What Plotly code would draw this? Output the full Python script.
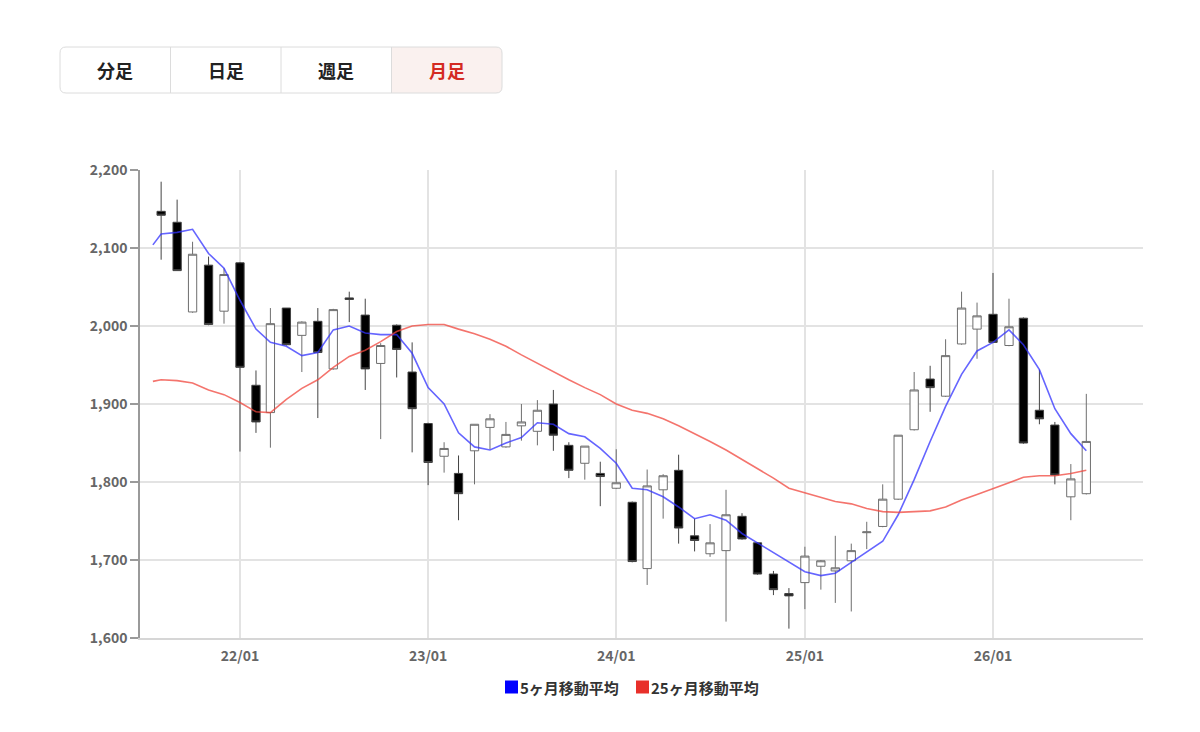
import plotly.graph_objects as go
import pandas as pd

# monthly candles, 2021/08 - 2026/07
months = pd.date_range("2021-08-01", "2026-07-01", freq="MS")

open_ = [2147, 2133, 2018, 2078, 2019, 2081, 1924, 1889, 2023, 1988,
         2006, 1945, 2036, 2014, 1952, 2001, 1941, 1875, 1833, 1811,
         1840, 1870, 1845, 1872, 1865, 1900, 1847, 1824, 1811, 1792,
         1774, 1689, 1790, 1815, 1731, 1708, 1712, 1756, 1722, 1682,
         1657, 1671, 1692, 1686, 1699, 1735, 1743, 1778, 1867, 1932,
         1910, 1977, 1996, 2015, 1975, 2010, 1892, 1873, 1781, 1785]
high = [2185, 2162, 2108, 2089, 2074, 2082, 1943, 2023, 2023, 2006,
        2023, 2022, 2044, 2035, 1978, 2002, 1979, 1876, 1851, 1834,
        1874, 1887, 1877, 1900, 1905, 1918, 1851, 1846, 1826, 1842,
        1775, 1816, 1810, 1835, 1753, 1746, 1790, 1760, 1723, 1686,
        1664, 1717, 1700, 1731, 1721, 1749, 1797, 1860, 1941, 1949,
        1983, 2044, 2030, 2068, 2035, 2011, 1944, 1877, 1823, 1913]
low = [2085, 2071, 2017, 2001, 2003, 1839, 1863, 1844, 1975, 1941,
       1882, 1944, 2005, 1918, 1855, 1934, 1838, 1796, 1812, 1751,
       1797, 1842, 1844, 1853, 1847, 1840, 1805, 1803, 1769, 1791,
       1697, 1668, 1753, 1721, 1711, 1704, 1621, 1726, 1681, 1655,
       1612, 1637, 1662, 1645, 1634, 1714, 1742, 1777, 1866, 1890,
       1909, 1976, 1958, 1978, 1974, 1849, 1874, 1797, 1751, 1784]
close = [2142, 2071, 2092, 2002, 2066, 1947, 1877, 2003, 1976, 2005,
         1966, 2021, 2034, 1945, 1975, 1970, 1894, 1825, 1843, 1785,
         1874, 1881, 1861, 1877, 1892, 1860, 1815, 1846, 1807, 1799,
         1698, 1795, 1808, 1741, 1725, 1722, 1758, 1727, 1682, 1662,
         1654, 1705, 1699, 1690, 1712, 1736, 1778, 1860, 1918, 1921,
         1962, 2023, 2013, 1979, 1999, 1850, 1881, 1809, 1804, 1852]

# moving average lines start half a month before the first candle
ma_dates = [pd.Timestamp("2021-07-16")] + list(months)
ma5 = [2104, 2118, 2120, 2124, 2093, 2074, 2033, 1996, 1979, 1974,
       1962, 1966, 1995, 2000, 1991, 1989, 1989, 1965, 1921, 1900,
       1863, 1845, 1841, 1850, 1857, 1876, 1874, 1862, 1858, 1843,
       1824, 1792, 1790, 1781, 1768, 1753, 1758, 1751, 1734, 1722,
       1709, 1697, 1685, 1680, 1683, 1697, 1710, 1724, 1758, 1803,
       1852, 1897, 1938, 1968, 1979, 1995, 1976, 1944, 1894, 1862, 1840]
ma25 = [1929, 1931, 1930, 1927, 1918, 1912, 1902, 1890, 1889, 1906,
        1920, 1931, 1947, 1961, 1969, 1980, 1993, 2000, 2002, 2002,
        1996, 1990, 1983, 1974, 1963, 1952, 1942, 1931, 1921, 1912,
        1900, 1892, 1888, 1881, 1872, 1862, 1852, 1841, 1829, 1818,
        1805, 1792, 1786, 1780, 1775, 1772, 1766, 1762, 1761, 1762,
        1763, 1768, 1777, 1784, 1792, 1799, 1806, 1808, 1808, 1811, 1815]

buttons = ["分足", "日足", "週足", "月足"]
active = "月足"
legend_names = ["5ヶ月移動平均", "25ヶ月移動平均"]
legend_colors = ["#0000ff", "#e8302a"]

FONT = "Noto Sans CJK JP"
OFF = 8  # page body margin
W, H = 1192, 724
L, R, T, B = 132, 57, 162, 94


# window pixel -> paper coords (for things drawn outside the plot)
def px(x):
    return (x - OFF - L) / (W - L - R)


def py(y):
    return (H - B - (y - OFF)) / (H - T - B)


def rounded_rect(x0, y0, x1, y1, r, left=True, right=True):
    p = ""
    if left:
        p += f"M{px(x0)},{py(y0 + r)} Q{px(x0)},{py(y0)} {px(x0 + r)},{py(y0)} "
    else:
        p += f"M{px(x0)},{py(y0)} "
    if right:
        p += f"L{px(x1 - r)},{py(y0)} Q{px(x1)},{py(y0)} {px(x1)},{py(y0 + r)} "
        p += f"L{px(x1)},{py(y1 - r)} Q{px(x1)},{py(y1)} {px(x1 - r)},{py(y1)} "
    else:
        p += f"L{px(x1)},{py(y0)} L{px(x1)},{py(y1)} "
    if left:
        p += f"L{px(x0 + r)},{py(y1)} Q{px(x0)},{py(y1)} {px(x0)},{py(y1 - r)} Z"
    else:
        p += f"L{px(x0)},{py(y1)} Z"
    return p


fig = go.Figure()

fig.add_trace(go.Candlestick(
    x=months, open=open_, high=high, low=low, close=close,
    increasing=dict(fillcolor="white", line=dict(color="#6e6e6e", width=1)),
    decreasing=dict(fillcolor="black", line=dict(color="#444444", width=1)),
    whiskerwidth=0, showlegend=False, hoverinfo="x+y",
))

fig.add_trace(go.Scatter(x=ma_dates, y=ma5, mode="lines", name=legend_names[0],
                         line=dict(color="rgba(50,50,255,0.75)", width=1.6),
                         showlegend=False))
fig.add_trace(go.Scatter(x=ma_dates, y=ma25, mode="lines", name=legend_names[1],
                         line=dict(color="rgba(240,70,60,0.75)", width=1.6),
                         showlegend=False))

shapes = []
annotations = []

# legend: coloured squares + labels, centred under the plot
leg_y = 687
leg_x = [505, 636]
for name, col, x0 in zip(legend_names, legend_colors, leg_x):
    shapes.append(dict(type="rect", xref="paper", yref="paper",
                       x0=px(x0), x1=px(x0 + 13), y0=py(leg_y + 6.5), y1=py(leg_y - 6.5),
                       fillcolor=col, line=dict(width=0)))
    annotations.append(dict(text=name, xref="paper", yref="paper", showarrow=False,
                            x=px(x0 + 13), y=py(leg_y), xanchor="left", yanchor="middle",
                            font=dict(family=FONT, size=15, color="#333333", weight=600)))

# button bar
bx0, bx1, by0, by1 = 60, 502, 47, 93
bw = (bx1 - bx0) / len(buttons)
ai = buttons.index(active)
shapes.append(dict(type="path", xref="paper", yref="paper",
                   path=rounded_rect(bx0 + ai * bw, by0, bx0 + (ai + 1) * bw, by1, 6,
                                     left=(ai == 0), right=(ai == len(buttons) - 1)),
                   fillcolor="#faf1ef", line=dict(width=0), layer="above"))
shapes.append(dict(type="path", xref="paper", yref="paper",
                   path=rounded_rect(bx0, by0, bx1, by1, 6),
                   line=dict(color="#dcdcdc", width=1), layer="above"))
for i, b in enumerate(buttons):
    if i > 0:
        xd = bx0 + i * bw
        shapes.append(dict(type="line", xref="paper", yref="paper",
                           x0=px(xd), x1=px(xd), y0=py(by0), y1=py(by1),
                           line=dict(color="#dcdcdc", width=1), layer="above"))
    annotations.append(dict(
        text=b, xref="paper", yref="paper", showarrow=False,
        x=px(bx0 + (i + 0.5) * bw), y=py((by0 + by1) / 2),
        xanchor="center", yanchor="middle",
        font=dict(family=FONT, size=18, weight=700,
                  color="#d42a22" if b == active else "#222222"),
    ))

fig.update_layout(
    width=W, height=H,
    margin=dict(l=L, r=R, t=T, b=B),
    paper_bgcolor="white", plot_bgcolor="white",
    font=dict(family=FONT, size=14, color="#666666"),
    boxgap=0.18,
    shapes=shapes, annotations=annotations,
    showlegend=False,
    hovermode="x",
)

fig.update_xaxes(
    type="date", range=["2021-06-21", "2026-10-19"],
    tick0="2022-01-01", dtick="M12", tickformat="%y/%m",
    showgrid=True, gridcolor="#e3e3e3", gridwidth=1.5,
    showline=True, linecolor="#d6d6d6", linewidth=1.5,
    ticks="", ticklabelstandoff=4,
    rangeslider=dict(visible=False),
    tickfont=dict(family=FONT, size=14, color="#666666", weight=600),
)
fig.update_yaxes(
    range=[1600, 2200], dtick=100, tickformat=",d",
    showgrid=True, gridcolor="#e3e3e3", gridwidth=1.5,
    showline=True, linecolor="#9a9a9a", linewidth=1.5,
    ticks="outside", ticklen=8, tickcolor="#9a9a9a", tickwidth=1.5,
    zeroline=False,
    tickfont=dict(family=FONT, size=14, color="#666666", weight=600),
)

fig.write_html("out.html")
